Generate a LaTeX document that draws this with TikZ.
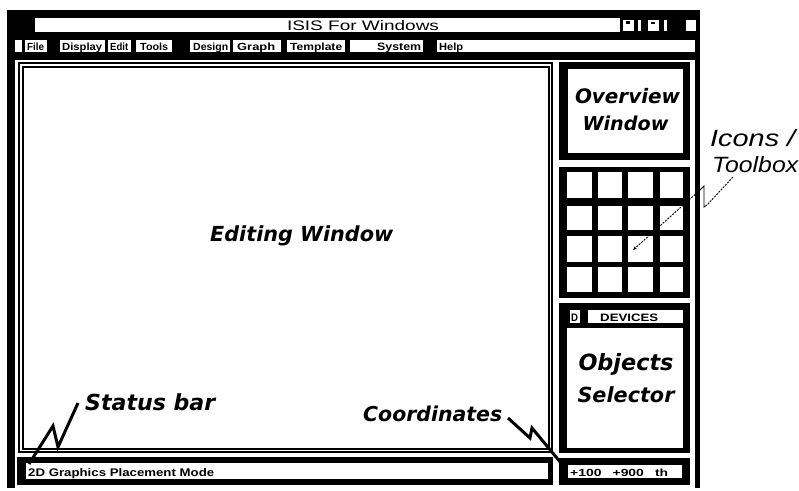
\documentclass[tikz,border=0pt]{standalone}
\usepackage{fontspec}
\usepackage{graphicx}
\usetikzlibrary{arrows.meta}
\setmainfont{DejaVu Sans}
\newfontfamily\uifont{Liberation Sans}
\newfontfamily\labfont{DejaVu Sans}
\newfontfamily\thinfont{Liberation Sans}
\newcommand{\uitxt}[2]{\resizebox{#1}{7.5pt}{\uifont\bfseries #2}}
\begin{document}
\begin{tikzpicture}[x=1pt,y=-1pt,
  blk/.style={fill=black,draw=none},
  wht/.style={fill=white,draw=none},
  lab/.style={inner sep=0,font=\labfont\bfseries\itshape},
  thinlab/.style={inner sep=0,font=\thinfont\itshape},
  ui/.style={inner sep=0,anchor=base west},
  bolt/.style={line width=3pt,line join=miter,line cap=butt},
  leader/.style={line width=0.9pt,dash pattern=on 2pt off 1.2pt}]
\useasboundingbox[fill=white] (0,0) rectangle (799,490);

% ---- outer window frame ----
\fill[blk] (7,10) rectangle (700,60);
\fill[blk] (7,10) rectangle (15,488);
\fill[blk] (695,10) rectangle (700,488);

% ---- title bar ----
\fill[wht] (35,18) rectangle (620,32);
\node[ui,anchor=base] (title) at (363,30) {\resizebox{152pt}{10pt}{\uifont ISIS For Windows}};
\fill[wht] (623,20) rectangle (634,31);
\fill[blk] (626,21) rectangle (630,24);
\fill[wht] (638,20) rectangle (641,31);
\fill[wht] (648,20) rectangle (659,31);
\fill[blk] (651,22) rectangle (655,24);
\fill[wht] (664,20) rectangle (667,31);
\fill[wht] (686,20) rectangle (696,31);

% ---- menu bar ----
\fill[wht] (15,40) rectangle (22,52);
\fill[wht] (25,40) rectangle (47,52);
\fill[wht] (60,40) rectangle (105,52);
\fill[wht] (108,40) rectangle (131,52);
\fill[wht] (136,40) rectangle (172,52);
\fill[wht] (190,40) rectangle (230,52);
\fill[wht] (233,40) rectangle (281,52);
\fill[wht] (287,40) rectangle (345,52);
\fill[wht] (350,40) rectangle (423,52);
\fill[wht] (437,40) rectangle (695,52);
\node[ui] (mfile) at (27,50.5) {\uitxt{17pt}{File}};
\node[ui] (mdisp) at (62,50.5) {\uitxt{40pt}{Display}};
\node[ui] (medit) at (110,50.5) {\uitxt{18pt}{Edit}};
\node[ui] (mtools) at (140,50.5) {\uitxt{28pt}{Tools}};
\node[ui] (mdes) at (193,50.5) {\uitxt{35pt}{Design}};
\node[ui] (mgraph) at (237,50.5) {\uitxt{38pt}{Graph}};
\node[ui] (mtemp) at (290,50.5) {\uitxt{52pt}{Template}};
\node[ui] (msys) at (377,50.5) {\uitxt{44pt}{System}};
\node[ui] (mhelp) at (439,50.5) {\uitxt{24pt}{Help}};

% ---- editing window ----
\draw[line width=2pt] (19,63) rectangle (552,452);
\draw[line width=2pt] (22.5,66.5) rectangle (549,449);
\node[lab,anchor=base west] (editw) at (210,241) {\resizebox{183pt}{!}{Editing Window}};

% ---- status bar ----
\fill[blk] (17,457) rectangle (553,485);
\fill[wht] (26,463) rectangle (548,479);
\node[ui] (stat) at (28,476.5) {\resizebox{186pt}{8pt}{\uifont\bfseries 2D Graphics Placement Mode}};

% ---- overview window ----
\fill[blk] (559,62) rectangle (690,160);
\fill[wht] (568,69) rectangle (683,153);
\node[lab,anchor=base] (ov1) at (627.5,103) {\resizebox{105pt}{!}{Overview}};
\node[lab,anchor=base] (ov2) at (625.5,130) {\resizebox{86pt}{!}{Window}};

% ---- toolbox grid ----
\fill[blk] (559,167) rectangle (690,298);
\foreach \xa/\xb in {567/592,598/622,628/653,660/683}{
  \foreach \ya/\yb in {172/198,206/230,236/262,267/292}{
    \fill[wht] (\xa,\ya) rectangle (\xb,\yb);
  }
}

% ---- objects selector ----
\fill[blk] (559,303) rectangle (690,453);
\fill[wht] (570,310) rectangle (580,323);
\fill[wht] (588,310) rectangle (683,323);
\fill[wht] (567,328) rectangle (683,448);
\node[ui] (dbtn) at (571,321) {\uitxt{7pt}{D}};
\node[ui] (devs) at (600,321) {\uitxt{58pt}{DEVICES}};
\node[lab,anchor=base] (obj1) at (626,370) {\resizebox{95pt}{!}{Objects}};
\node[lab,anchor=base] (obj2) at (626,402) {\resizebox{97pt}{!}{Selector}};

% ---- coordinates box ----
\fill[blk] (559,458) rectangle (690,485);
\fill[wht] (568,465) rectangle (682,478);
\node[ui] (coordtxt) at (570,476) {\uitxt{98pt}{+100\hspace{0.8em}+900\hspace{0.8em}th}};

% ---- callout labels ----
\node[thinlab,anchor=base west] (icons) at (710,146) {\resizebox{85pt}{17pt}{Icons /}};
\node[thinlab,anchor=base west] (toolbox) at (712,172) {\resizebox{86pt}{16pt}{Toolbox}};
\node[lab,anchor=base west] (status) at (85,410) {\resizebox{130pt}{!}{Status bar}};
\node[lab,anchor=base west] (coords) at (363,421) {\resizebox{139pt}{!}{Coordinates}};

% ---- leaders ----
\coordinate (ia) at (733,177);
\coordinate (ib) at (707,205);
\coordinate (ic) at (700,190);
\coordinate (it) at (633,250);
\draw[leader] (ia) -- (ib);
\draw[line width=0.9pt] (ib) -- (704,207) -- (704,186) -- (ic);
\draw[leader,-{Stealth[length=4pt,width=3pt]}] (ic) -- (it);

\coordinate (sa) at (78,403);
\coordinate (sz) at (29,464);
\draw[bolt] (sa) -- (58,447) -- (53,426) -- (sz);

\coordinate (ca) at (508,418);
\coordinate (cz) at (561,463);
\draw[bolt] (ca) -- (530,438) -- (532,428) -- (cz);
\end{tikzpicture}
\end{document}
